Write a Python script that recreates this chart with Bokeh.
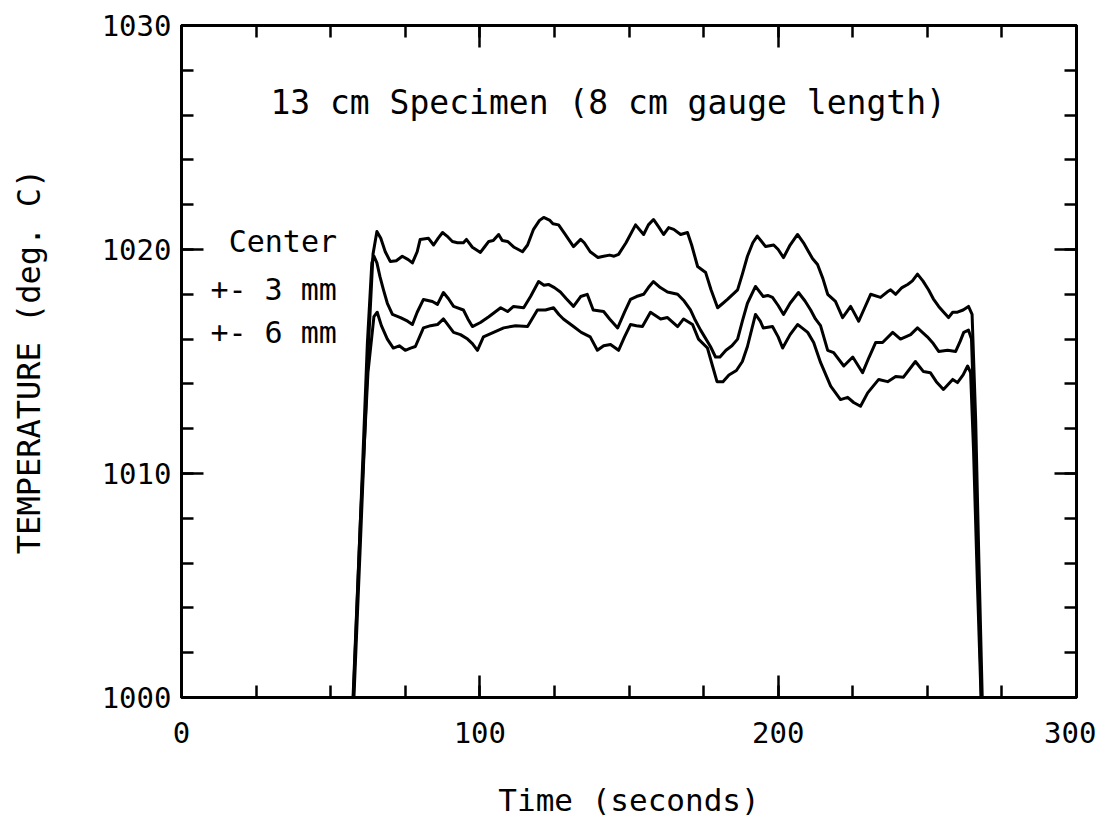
import numpy as np
from bokeh.plotting import figure
from bokeh.models import SingleIntervalTicker, LinearAxis, Range1d, Label, CustomJSTickFormatter
from bokeh.embed import file_html
from bokeh.resources import INLINE

# ---------------- data ----------------
center_x = [57.8, 60.0, 62.5, 64.2, 65.5, 66.8, 68.3, 70.0, 72.0, 74.0, 76.0, 77.4, 79.0, 80.0,
            82.8, 84.5, 86.0, 87.5, 89.0, 90.8, 92.5, 94.5, 95.5, 97.5, 100.2, 101.5, 103.0,
            104.5, 106.3, 107.5, 109.3, 111.5, 114.3, 116.0, 118.0, 120.0, 121.4, 123.5, 124.5,
            126.4, 128.5, 131.4, 133.8, 135.0, 137.0, 139.6, 141.5, 143.5, 145.0, 146.5, 149.0,
            152.2, 154.9, 156.5, 158.2, 160.0, 161.6, 163.3, 165.0, 167.3, 169.6, 171.0, 173.0,
            175.7, 177.5, 179.7, 181.5, 183.0, 186.4, 188.0, 189.7, 191.5, 193.0, 195.8, 198.5,
            200.0, 201.8, 204.0, 206.5, 208.5, 210.2, 211.5, 213.2, 215.0, 216.6, 219.2, 221.6,
            224.3, 227.0, 229.0, 231.0, 234.3, 236.5, 237.7, 239.4, 241.5, 243.4, 245.0, 246.7,
            248.5, 250.4, 252.0, 253.8, 255.5, 257.1, 258.5, 260.1, 262.0, 263.8, 265.0, 266.2,
            267.3, 268.4]
center_y = [1000, 1007, 1015.3, 1019.8, 1020.8, 1020.5, 1019.9, 1019.46, 1019.5, 1019.7, 1019.55,
            1019.4, 1019.9, 1020.45, 1020.5, 1020.2, 1020.5, 1020.76, 1020.6, 1020.36, 1020.3,
            1020.3, 1020.45, 1020.1, 1019.87, 1020.1, 1020.36, 1020.4, 1020.67, 1020.4, 1020.36,
            1020.1, 1019.9, 1020.2, 1020.9, 1021.3, 1021.43, 1021.3, 1021.15, 1021.1, 1020.7,
            1020.13, 1020.45, 1020.3, 1019.9, 1019.64, 1019.7, 1019.75, 1019.7, 1019.78, 1020.3,
            1021.1, 1020.67, 1021.1, 1021.34, 1021.0, 1020.67, 1020.98, 1020.9, 1020.67, 1020.76,
            1020.2, 1019.24, 1018.97, 1018.2, 1017.4, 1017.6, 1017.77, 1018.2, 1018.9, 1019.7,
            1020.3, 1020.6, 1020.13, 1020.2, 1020.0, 1019.64, 1020.2, 1020.67, 1020.3, 1019.9,
            1019.6, 1019.33, 1018.7, 1018.0, 1017.68, 1016.96, 1017.46, 1016.8, 1017.4, 1018.0,
            1017.86, 1018.1, 1018.2, 1018.0, 1018.3, 1018.44, 1018.6, 1018.9, 1018.6, 1018.2,
            1017.8, 1017.46, 1017.2, 1016.96, 1017.2, 1017.2, 1017.3, 1017.46, 1017.1, 1012.4,
            1006, 1000]

mm3_x = [57.6, 60.0, 62.3, 63.8, 64.5, 65.5, 66.5, 67.7, 69.0, 70.7, 73.4, 75.8, 77.4, 79.0, 81.1,
         84.1, 85.8, 87.8, 89.5, 91.2, 94.5, 96.0, 97.5, 100.2, 103.0, 105.0, 107.0, 109.3, 111.3,
         114.7, 117.0, 119.7, 121.5, 123.0, 125.0, 127.0, 129.0, 131.4, 133.8, 136.0, 138.0, 141.5,
         143.5, 146.2, 148.5, 150.5, 152.5, 154.9, 156.5, 158.2, 160.5, 162.9, 166.3, 168.5, 170.6,
         172.0, 174.0, 177.3, 179.0, 180.5, 182.5, 184.5, 186.4, 188.0, 189.7, 192.4, 195.0, 196.5,
         198.1, 200.0, 201.8, 204.0, 206.8, 209.0, 210.9, 212.5, 214.2, 216.6, 218.6, 222.0, 225.0,
         228.3, 230.5, 232.7, 235.0, 238.4, 241.0, 244.4, 246.7, 250.0, 252.0, 253.8, 256.8, 259.5,
         261.0, 262.2, 263.8, 264.8, 265.8, 266.9, 268.1]
mm3_y = [1000, 1008, 1015.8, 1019.4, 1019.7, 1019.4, 1018.8, 1018.2, 1017.6, 1017.1, 1016.96,
         1016.8, 1016.65, 1017.2, 1017.77, 1017.68, 1017.55, 1018.08, 1017.8, 1017.46, 1017.3,
         1016.9, 1016.56, 1016.74, 1017.0, 1017.2, 1017.4, 1017.23, 1017.46, 1017.4, 1017.9,
         1018.57, 1018.4, 1018.44, 1018.3, 1018.1, 1017.8, 1017.46, 1017.9, 1018.0, 1017.3,
         1017.23, 1016.9, 1016.5, 1017.2, 1017.77, 1017.9, 1018.0, 1018.3, 1018.57, 1018.3,
         1018.1, 1018.0, 1017.7, 1017.3, 1016.9, 1016.4, 1015.67, 1015.2, 1015.2, 1015.5, 1015.7,
         1016.0, 1016.8, 1017.6, 1018.35, 1017.9, 1017.95, 1017.86, 1017.5, 1017.1, 1017.6,
         1018.08, 1017.7, 1017.3, 1016.9, 1016.6, 1015.5, 1015.4, 1014.8, 1015.2, 1014.5, 1015.2,
         1015.85, 1015.85, 1016.3, 1016.0, 1016.2, 1016.5, 1016.1, 1015.8, 1015.45, 1015.5,
         1015.45, 1015.9, 1016.3, 1016.4, 1016.0, 1012, 1006.5, 1000]

mm6_x = [57.5, 60.0, 62.5, 64.5, 65.6, 67.0, 69.0, 71.0, 73.0, 75.0, 76.8, 78.4, 81.1, 83.5, 85.8,
         87.8, 89.5, 91.2, 93.5, 95.9, 97.5, 99.2, 101.2, 104.6, 108.0, 112.0, 116.0, 117.5, 119.3,
         122.0, 124.7, 126.5, 128.0, 131.4, 134.0, 137.0, 139.4, 141.5, 143.8, 146.5, 148.5, 150.5,
         152.5, 154.5, 157.2, 160.6, 162.9, 166.3, 168.3, 171.3, 173.3, 176.3, 178.0, 179.5, 181.5,
         183.5, 186.0, 188.0, 189.7, 192.4, 194.0, 195.0, 198.1, 200.0, 201.5, 204.0, 206.5, 208.0,
         209.9, 211.9, 214.2, 217.6, 220.9, 223.3, 225.3, 227.6, 230.0, 233.7, 236.7, 239.4, 242.0,
         246.0, 248.7, 251.0, 253.0, 255.4, 258.5, 260.1, 262.0, 263.5, 264.5, 265.5, 266.8, 268.0]
mm6_y = [1000, 1008, 1014.5, 1017.0, 1017.2, 1016.6, 1016.0, 1015.6, 1015.7, 1015.5, 1015.6,
         1015.67, 1016.5, 1016.6, 1016.65, 1016.9, 1016.6, 1016.3, 1016.2, 1016.0, 1015.8, 1015.5,
         1016.1, 1016.3, 1016.5, 1016.6, 1016.56, 1016.9, 1017.3, 1017.3, 1017.4, 1017.1, 1016.9,
         1016.56, 1016.3, 1016.1, 1015.5, 1015.7, 1015.76, 1015.5, 1016.1, 1016.65, 1016.6,
         1016.56, 1017.2, 1016.9, 1016.96, 1016.56, 1016.9, 1016.65, 1016.0, 1015.6, 1014.8,
         1014.1, 1014.1, 1014.4, 1014.6, 1015.0, 1015.67, 1017.1, 1016.8, 1016.5, 1016.56, 1016.1,
         1015.6, 1016.2, 1016.65, 1016.5, 1016.3, 1015.85, 1014.96, 1013.9, 1013.3, 1013.4,
         1013.17, 1013.0, 1013.6, 1014.2, 1014.1, 1014.33, 1014.3, 1015.0, 1014.55, 1014.5,
         1014.1, 1013.75, 1014.2, 1014.06, 1014.4, 1014.8, 1014.5, 1011, 1005, 1000]

series_labels = ["Center", "+- 3 mm", "+- 6 mm"]
title_text = "13 cm Specimen (8 cm gauge length)"
x_label = "Time (seconds)"
y_label = "TEMPERATURE (deg. C)"

FONT = "DejaVu Sans Mono"
TICK_FS = "29px"

p = figure(frame_width=895, frame_height=672,
           x_range=Range1d(0, 300), y_range=Range1d(1000, 1030),
           min_border_left=181, min_border_right=20, min_border_top=25, min_border_bottom=20,
           output_backend="svg", toolbar_location=None)
p.grid.visible = False
p.background_fill_color = "white"
p.border_fill_color = "white"
p.outline_line_color = "black"
p.outline_line_width = 3


def style_axis(ax, labels=True):
    ax.axis_line_color = "black"
    ax.axis_line_width = 3
    ax.major_tick_line_color = "black"
    ax.minor_tick_line_color = "black"
    ax.major_tick_line_width = 2.5
    ax.minor_tick_line_width = 2.5
    ax.major_tick_in = 22
    ax.major_tick_out = 0
    ax.minor_tick_in = 12
    ax.minor_tick_out = 0
    ax.major_label_text_font = FONT
    ax.major_label_text_color = "black"
    ax.major_label_text_font_size = TICK_FS
    if not labels:
        ax.formatter = CustomJSTickFormatter(code="return '';")
        ax.major_label_standoff = 0


xt = SingleIntervalTicker(interval=100, num_minor_ticks=4)
yt = SingleIntervalTicker(interval=10, num_minor_ticks=5)

xa = p.xaxis[0]
xa.ticker = xt
style_axis(xa)
xa.major_label_standoff = 24
xa.axis_label = x_label
xa.axis_label_text_font = FONT
xa.axis_label_text_font_size = "31px"
xa.axis_label_text_font_style = "normal"
xa.axis_label_text_color = "black"
xa.axis_label_standoff = 36

ya = p.yaxis[0]
ya.ticker = yt
style_axis(ya)
ya.major_label_standoff = 10
ya.axis_label = y_label
ya.axis_label_text_font = FONT
ya.axis_label_text_font_size = "32px"
ya.axis_label_text_font_style = "normal"
ya.axis_label_text_color = "black"
ya.axis_label_standoff = 51

top = LinearAxis(ticker=SingleIntervalTicker(interval=100, num_minor_ticks=4))
style_axis(top, labels=False)
p.add_layout(top, "above")
right = LinearAxis(ticker=SingleIntervalTicker(interval=10, num_minor_ticks=5))
style_axis(right, labels=False)
p.add_layout(right, "right")

for xs, ys in [(center_x, center_y), (mm3_x, mm3_y), (mm6_x, mm6_y)]:
    p.line(xs, ys, line_color="black", line_width=3, line_join="round")

p.add_layout(Label(x=29.8, y=1026.55, text=title_text, text_font=FONT,
                   text_font_size="33px", text_align="left", text_baseline="middle",
                   text_color="black"))
label_pos = [(15.8, 1020.35), (9.7, 1018.2), (9.7, 1016.3)]
for (lx, ly), t in zip(label_pos, series_labels):
    p.add_layout(Label(x=lx, y=ly, text=t, text_font=FONT, text_font_size="30px",
                       text_align="left", text_baseline="middle", text_color="black"))

open("out.html", "w").write(file_html(p, INLINE))
